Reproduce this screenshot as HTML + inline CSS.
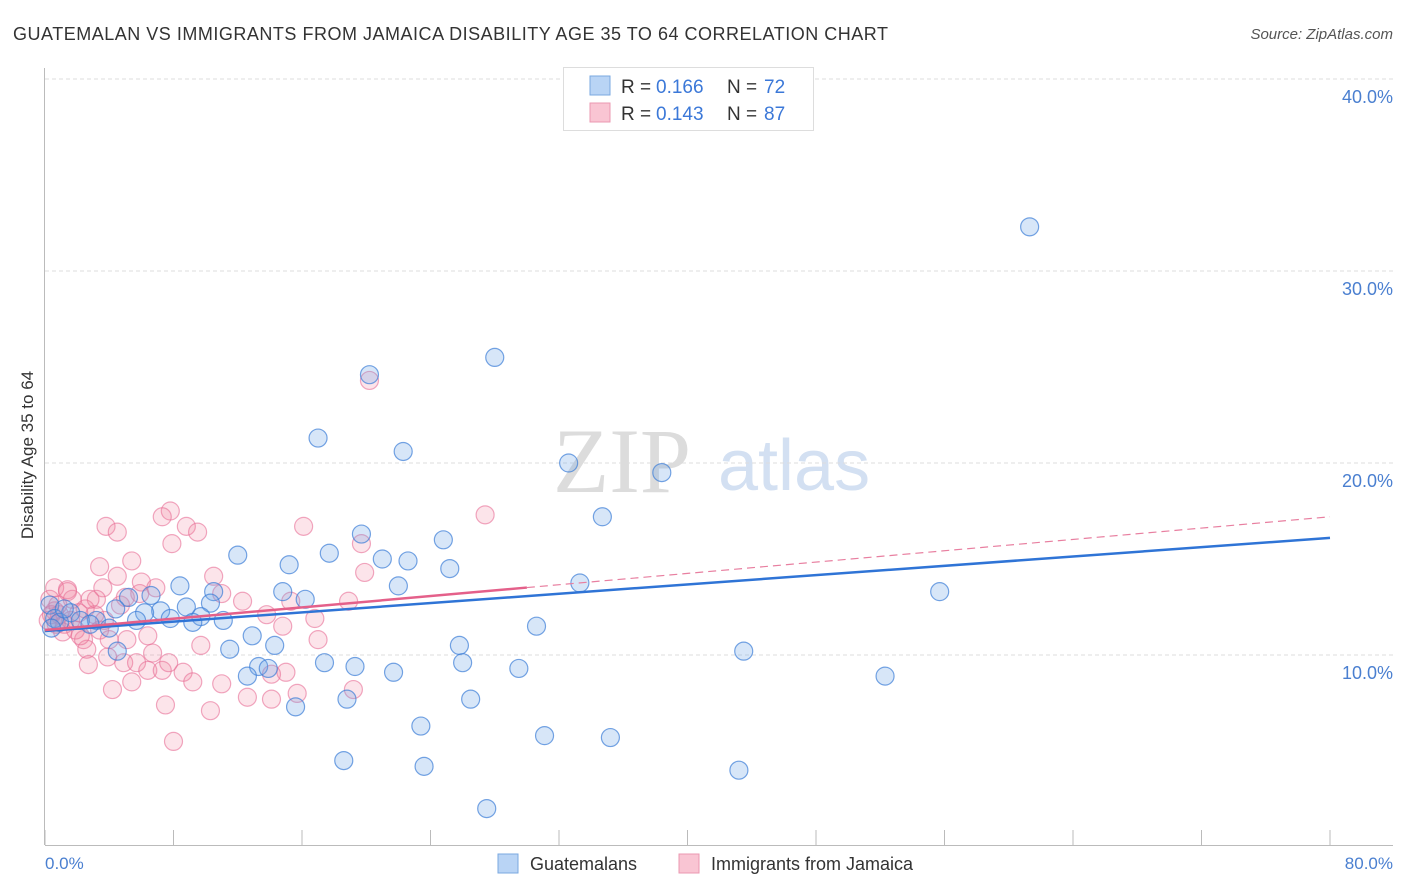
<!DOCTYPE html>
<html><head><meta charset="utf-8"><style>
body{margin:0;background:#fff;font-family:"Liberation Sans",sans-serif;}
svg{display:block}
</style></head><body>
<svg width="1406" height="892" xmlns="http://www.w3.org/2000/svg">
<text x="13" y="40" font-size="18" fill="#333" textLength="875">GUATEMALAN VS IMMIGRANTS FROM JAMAICA DISABILITY AGE 35 TO 64 CORRELATION CHART</text>
<text x="1393" y="39" font-size="15" fill="#555" font-style="italic" text-anchor="end">Source: ZipAtlas.com</text>
<g>
<text x="553" y="492" font-size="92" fill="#dcdcdc" font-family="Liberation Serif">ZIP</text>
<text x="718" y="490" font-size="72" fill="#d3e0f2">atlas</text>
</g>
<g id="grid"></g>
<line x1="44.5" y1="68" x2="44.5" y2="845" stroke="#bbb"/>
<line x1="45" y1="845.5" x2="1393" y2="845.5" stroke="#bbb"/>
<g id="xticks"></g>
<text transform="translate(33,455) rotate(-90)" font-size="17" fill="#333" text-anchor="middle">Disability Age 35 to 64</text>
<text x="45" y="869" font-size="17" fill="#4a7fd0">0.0%</text>
<text x="1393" y="869" font-size="17" fill="#4a7fd0" text-anchor="end">80.0%</text>
<g id="pts"></g>
<g id="lines"></g>
<g>
<rect x="563.5" y="67.5" width="250" height="63" fill="#fff" stroke="#ddd"/>
<rect x="590" y="76" width="20" height="19" fill="#b9d4f5" stroke="#7aa8e0"/>
<rect x="590" y="103" width="20" height="19" fill="#f9c5d3" stroke="#eb98b2"/>
<text y="93" font-size="19" fill="#333"><tspan x="621">R = </tspan><tspan x="656" fill="#3b78d8">0.166</tspan><tspan x="727">N = </tspan><tspan x="764" fill="#3b78d8">72</tspan></text>
<text y="120" font-size="19" fill="#333"><tspan x="621">R = </tspan><tspan x="656" fill="#3b78d8">0.143</tspan><tspan x="727">N = </tspan><tspan x="764" fill="#3b78d8">87</tspan></text>
</g>
<g>
<rect x="498" y="854" width="20" height="19" fill="#b9d4f5" stroke="#7aa8e0"/>
<text x="530" y="870" font-size="18" fill="#333">Guatemalans</text>
<rect x="679" y="854" width="20" height="19" fill="#f9c5d3" stroke="#eb98b2"/>
<text x="711" y="870" font-size="18" fill="#333">Immigrants from Jamaica</text>
</g>
</svg>
<script>
const yTicks=[10,20,30,40];
const yTickLabels=["10.0%","20.0%","30.0%","40.0%"];
const blueX=[61.3,28.0,20.2,17.0,22.3,32.6,38.4,34.7,19.7,24.8,12.0,17.7,15.2,21.0,22.6,25.2,22.0,33.3,55.7,8.4,14.8,16.2,10.5,5.2,6.6,7.2,8.8,10.3,9.7,6.2,4.4,3.2,4.0,5.7,7.8,9.2,11.1,30.6,25.8,12.9,11.5,14.3,4.5,43.5,26.0,17.4,19.3,13.3,13.9,29.5,12.6,21.7,52.3,18.8,26.5,15.6,23.4,31.1,35.2,18.6,23.6,43.2,27.5,0.3,0.6,0.9,1.6,2.2,2.8,0.4,1.2];
const blueY=[32.3,25.5,24.6,21.3,20.6,20.0,19.5,17.2,16.3,16.0,15.2,15.3,14.7,15.0,14.9,14.5,13.6,13.75,13.3,13.6,13.3,12.9,13.3,13.0,13.1,12.3,12.5,12.7,12.0,12.2,12.4,11.8,11.4,11.8,11.9,11.7,11.8,11.5,10.5,11.0,10.3,10.5,10.2,10.2,9.6,9.6,9.4,9.4,9.3,9.3,8.9,9.1,8.9,7.7,7.7,7.3,6.3,5.8,5.7,4.5,4.2,4.0,2.0,12.6,11.9,11.7,12.2,11.8,11.6,11.4,12.4];
const pinkX=[7.8,7.3,3.8,4.5,8.8,9.5,7.9,16.1,27.4,19.7,19.9,20.2,3.4,5.4,4.5,3.6,0.6,1.4,6.0,6.9,10.5,5.9,3.2,1.7,12.3,11.0,15.3,18.9,13.8,14.8,16.8,17.0,9.7,6.4,5.1,2.4,2.6,2.7,4.2,5.4,3.9,4.9,5.7,6.4,6.7,7.3,8.6,9.2,7.7,11.0,7.5,10.3,12.6,14.1,15.7,15.0,14.1,19.2,8.0,0.3,0.6,0.9,0.2,1.2,1.9,2.5,3.1,0.8,1.6,1.1,2.2,3.4,3.7,4.0,2.8,1.4,4.7,5.0,0.4,2.1,0.7];
const pinkY=[17.5,17.2,16.7,16.4,16.7,16.4,15.8,16.7,17.3,15.8,14.3,24.3,14.6,14.9,14.1,13.5,13.5,13.4,13.8,13.5,14.1,13.2,12.9,12.9,12.8,13.2,12.8,12.8,12.1,11.5,11.9,10.8,10.5,11.0,10.8,10.8,10.3,9.5,8.2,8.6,9.9,9.6,9.6,9.2,10.1,9.2,9.1,8.6,9.6,8.5,7.4,7.1,7.8,7.7,8.0,9.1,9.0,8.2,5.5,12.9,12.3,12.1,11.8,11.6,11.3,12.4,12.1,12.6,11.8,11.2,11.0,11.3,11.8,10.8,12.9,13.3,12.6,13.0,12.1,12.2,11.6];
const blueTrend=[11.25,16.1];
const pinkTrend=[11.3,17.2];
const pinkSolidEnd=30;
const NS="http://www.w3.org/2000/svg";
const sx=v=>45+v*(1285/80);
const sy=v=>847-v*19.2;
function mk(tag,attrs,parent){const e=document.createElementNS(NS,tag);for(const k in attrs)e.setAttribute(k,attrs[k]);parent.appendChild(e);return e;}
const grid=document.getElementById('grid');
yTicks.forEach((t,i)=>{
 const l=mk('line',{x1:45,x2:1393,y1:sy(t),y2:sy(t),stroke:'#ddd','stroke-dasharray':'4,3'},grid);
 
 
 const tx=mk('text',{x:1393,y:sy(t)+24,'font-size':18,fill:'#4a7fd0','text-anchor':'end'},grid);
 tx.textContent=yTickLabels[i];
 
 
});
const xt=document.getElementById('xticks');
for(let i=0;i<=10;i++){
 const l=mk('line',{x1:sx(i*8),x2:sx(i*8),y1:830,y2:845,stroke:'#bbb'},xt);
 
 
}
const pts=document.getElementById('pts');
pinkX.forEach((x,i)=>{
 const c=mk('circle',{cx:sx(x),cy:sy(pinkY[i]),r:9,fill:'rgba(240,130,160,0.22)',stroke:'rgba(232,110,150,0.6)','stroke-width':1.2},pts);
 
 
});
blueX.forEach((x,i)=>{
 const c=mk('circle',{cx:sx(x),cy:sy(blueY[i]),r:9,fill:'rgba(110,165,230,0.28)',stroke:'rgba(60,125,215,0.7)','stroke-width':1.2},pts);
 
 
});
const lines=document.getElementById('lines');
const pAt=x=>pinkTrend[0]+(pinkTrend[1]-pinkTrend[0])*x/80;
let l1=mk('line',{x1:sx(pinkSolidEnd),y1:sy(pAt(pinkSolidEnd)),x2:sx(80),y2:sy(pinkTrend[1]),stroke:'#e87fa0','stroke-width':1.2,'stroke-dasharray':'8,5'},lines);


let l2=mk('line',{x1:sx(0),y1:sy(blueTrend[0]),x2:sx(80),y2:sy(blueTrend[1]),stroke:'#2f74d6','stroke-width':2.5},lines);


let l3=mk('line',{x1:sx(0),y1:sy(pinkTrend[0]),x2:sx(pinkSolidEnd),y2:sy(pAt(pinkSolidEnd)),stroke:'#e4608a','stroke-width':2.5},lines);


</script>
</body></html>
